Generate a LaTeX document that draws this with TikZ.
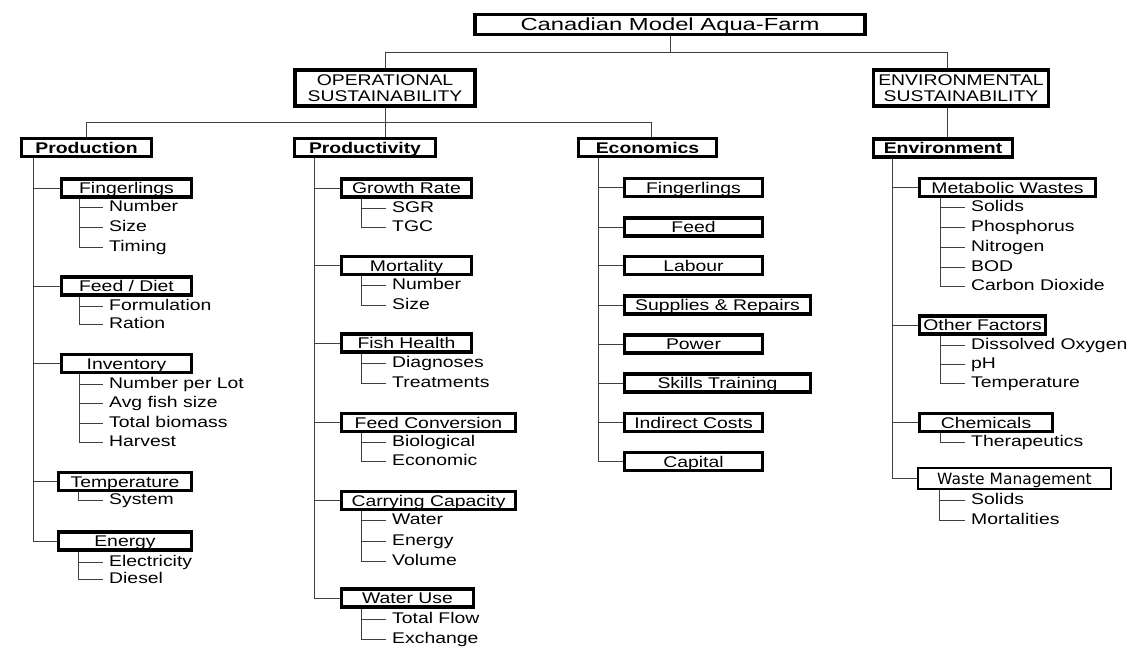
\documentclass[tikz,border=0pt]{standalone}
\usepackage{fontspec}
\setmainfont{Liberation Sans}[FakeStretch=1.25]
\newfontfamily\titlefont{Liberation Sans}[FakeStretch=1.36]
\newfontfamily\wastefont{DejaVu Sans}
\usepackage{tikz}
\tikzstyle{box} = [draw, line width=3.4pt, fill=white, inner sep=0pt, minimum height=18pt, text height=12.5pt, text depth=1.5pt, font=\fontsize{15.5}{16}\selectfont]
\tikzstyle{head} = [box, font=\fontsize{15.5}{16}\selectfont\bfseries]
\tikzstyle{pillar} = [draw, line width=3.4pt, fill=white, inner sep=0pt, minimum height=36pt, align=center, font=\fontsize{15.5}{16}\selectfont]
\tikzstyle{item} = [anchor=west, inner xsep=6pt, inner ysep=0pt, text height=11pt, text depth=2pt, font=\fontsize{15.5}{16}\selectfont]
\tikzstyle{link} = [draw, line width=1pt, black!75]

\begin{document}
\begin{tikzpicture}[x=1pt, y=-1pt]
\useasboundingbox (0, 0) rectangle (1128, 646);

\node at (670, 24.5) [box, minimum width=390pt, minimum height=19.5pt, text height=14pt, text depth=2pt, font=\titlefont\fontsize{17.5}{18}\selectfont] (farm) {Canadian Model Aqua-Farm};
\node at (385, 88) [pillar, minimum width=180pt] (ops) {OPERATIONAL\\SUSTAINABILITY};
\node at (961, 88) [pillar, minimum width=174.5pt] (envs) {ENVIRONMENTAL\\SUSTAINABILITY};
\coordinate (j0) at (670, 52);
\coordinate (j1) at (385, 122);
\path [link] (farm.south) -- (j0);
\path [link] (j0) -| (ops.north);
\path [link] (j0) -| ([xshift=-14]envs.north);
\path [link] (ops.south) -- (j1);

\node at (86.5, 147.5) [head, minimum width=129.5pt] (prod) {Production};
\node at (365, 147.5) [head, minimum width=140.5pt] (prdv) {Productivity};
\node at (647.5, 147.5) [head, minimum width=137.5pt] (econ) {Economics};
\node at (943, 148) [head, minimum width=138.5pt] (env) {Environment};
\path [link] (j1) -| (prod.north);
\path [link] (j1) -- ([xshift=20]prdv.north);
\path [link] (j1) -| ([xshift=4]econ.north);
\path [link] ([xshift=-14]envs.south) -- ([xshift=4]env.north);

% production
\node at (126.5, 188) [box, minimum width=129.5pt] (p1) {Fingerlings};
\node at (103, 207) [item] (p11) {Number};
\node at (103, 227) [item] (p12) {Size};
\node at (103, 247) [item] (p13) {Timing};
\node at (126.5, 286) [box, minimum width=129.5pt] (p2) {Feed / Diet};
\node at (103, 306) [item] (p21) {Formulation};
\node at (103, 324) [item] (p22) {Ration};
\node at (126.5, 363.5) [box, minimum width=129.5pt] (p3) {Inventory};
\node at (103, 384) [item] (p31) {Number per Lot};
\node at (103, 403) [item] (p32) {Avg fish size};
\node at (103, 423) [item] (p33) {Total biomass};
\node at (103, 442) [item] (p34) {Harvest};
\node at (125, 481.5) [box, minimum width=132.5pt] (p4) {Temperature};
\node at (103, 500) [item] (p41) {System};
\node at (125, 541) [box, minimum width=132.5pt] (p5) {Energy};
\node at (103, 562) [item] (p51) {Electricity};
\node at (103, 579) [item] (p52) {Diesel};
\path [link] ([xshift=-53]prod.south) |- (p1.west);
\path [link] ([xshift=-53]prod.south) |- (p2.west);
\path [link] ([xshift=-53]prod.south) |- (p3.west);
\path [link] ([xshift=-53]prod.south) |- (p4.west);
\path [link] ([xshift=-53]prod.south) |- (p5.west);
\path [link] ([xshift=19]p1.south west) |- (p11.west);
\path [link] ([xshift=19]p1.south west) |- (p12.west);
\path [link] ([xshift=19]p1.south west) |- (p13.west);
\path [link] ([xshift=19]p2.south west) |- (p21.west);
\path [link] ([xshift=19]p2.south west) |- (p22.west);
\path [link] ([xshift=19]p3.south west) |- (p31.west);
\path [link] ([xshift=19]p3.south west) |- (p32.west);
\path [link] ([xshift=19]p3.south west) |- (p33.west);
\path [link] ([xshift=19]p3.south west) |- (p34.west);
\path [link] ([xshift=21]p4.south west) |- (p41.west);
\path [link] ([xshift=21]p5.south west) |- (p51.west);
\path [link] ([xshift=21]p5.south west) |- (p52.west);

% productivity
\node at (406.5, 188) [box, minimum width=129.5pt] (q1) {Growth Rate};
\node at (386, 208) [item] (q11) {SGR};
\node at (386, 227) [item] (q12) {TGC};
\node at (406.5, 265.5) [box, minimum width=129.5pt] (q2) {Mortality};
\node at (386, 285) [item] (q21) {Number};
\node at (386, 305) [item] (q22) {Size};
\node at (406.5, 343) [box, minimum width=129.5pt] (q3) {Fish Health};
\node at (386, 363) [item] (q31) {Diagnoses};
\node at (386, 383) [item] (q32) {Treatments};
\node at (428.5, 422.5) [box, minimum width=173.5pt] (q4) {Feed Conversion};
\node at (386, 442) [item] (q41) {Biological};
\node at (386, 461) [item] (q42) {Economic};
\node at (428.5, 500.5) [box, minimum width=173.5pt] (q5) {Carrying Capacity};
\node at (386, 520) [item] (q51) {Water};
\node at (386, 541) [item] (q52) {Energy};
\node at (386, 561) [item] (q53) {Volume};
\node at (407.5, 598) [box, minimum width=131.5pt] (q6) {Water Use};
\node at (386, 619) [item] (q61) {Total Flow};
\node at (386, 639) [item] (q62) {Exchange};
\path [link] ([xshift=-51]prdv.south) |- (q1.west);
\path [link] ([xshift=-51]prdv.south) |- (q2.west);
\path [link] ([xshift=-51]prdv.south) |- (q3.west);
\path [link] ([xshift=-51]prdv.south) |- (q4.west);
\path [link] ([xshift=-51]prdv.south) |- (q5.west);
\path [link] ([xshift=-51]prdv.south) |- (q6.west);
\path [link] ([xshift=21]q1.south west) |- (q11.west);
\path [link] ([xshift=21]q1.south west) |- (q12.west);
\path [link] ([xshift=21]q2.south west) |- (q21.west);
\path [link] ([xshift=21]q2.south west) |- (q22.west);
\path [link] ([xshift=21]q3.south west) |- (q31.west);
\path [link] ([xshift=21]q3.south west) |- (q32.west);
\path [link] ([xshift=21]q4.south west) |- (q41.west);
\path [link] ([xshift=21]q4.south west) |- (q42.west);
\path [link] ([xshift=21]q5.south west) |- (q51.west);
\path [link] ([xshift=21]q5.south west) |- (q52.west);
\path [link] ([xshift=21]q5.south west) |- (q53.west);
\path [link] ([xshift=21]q6.south west) |- (q61.west);
\path [link] ([xshift=21]q6.south west) |- (q62.west);

% economics
\node at (693.5, 187.5) [box, minimum width=137.5pt] (e1) {Fingerlings};
\node at (693.5, 227) [box, minimum width=137.5pt] (e2) {Feed};
\node at (693.5, 265.5) [box, minimum width=137.5pt] (e3) {Labour};
\node at (717.5, 305) [box, minimum width=185.5pt] (e4) {Supplies \& Repairs};
\node at (693.5, 344) [box, minimum width=137.5pt] (e5) {Power};
\node at (717.5, 383) [box, minimum width=185.5pt] (e6) {Skills Training};
\node at (693.5, 422.5) [box, minimum width=137.5pt] (e7) {Indirect Costs};
\node at (693.5, 461.5) [box, minimum width=137.5pt] (e8) {Capital};
\path [link] ([xshift=-49.5]econ.south) |- (e1.west);
\path [link] ([xshift=-49.5]econ.south) |- (e2.west);
\path [link] ([xshift=-49.5]econ.south) |- (e3.west);
\path [link] ([xshift=-49.5]econ.south) |- (e4.west);
\path [link] ([xshift=-49.5]econ.south) |- (e5.west);
\path [link] ([xshift=-49.5]econ.south) |- (e6.west);
\path [link] ([xshift=-49.5]econ.south) |- (e7.west);
\path [link] ([xshift=-49.5]econ.south) |- (e8.west);

% environment
\node at (1007.5, 187.5) [box, minimum width=175.5pt] (v1) {Metabolic Wastes};
\node at (965, 207) [item] (v11) {Solids};
\node at (965, 227) [item] (v12) {Phosphorus};
\node at (965, 247) [item] (v13) {Nitrogen};
\node at (965, 267) [item] (v14) {BOD};
\node at (965, 286) [item] (v15) {Carbon Dioxide};
\node at (982.5, 325) [box, minimum width=125.5pt] (v2) {Other Factors};
\node at (965, 345) [item] (v21) {Dissolved Oxygen};
\node at (965, 364) [item] (v22) {pH};
\node at (965, 383) [item] (v23) {Temperature};
\node at (986, 422.5) [box, minimum width=132.5pt] (v3) {Chemicals};
\node at (965, 442) [item] (v31) {Therapeutics};
\node at (1014.5, 478.5) [box, line width=2.4pt, minimum width=193pt, minimum height=21pt, font=\wastefont\fontsize{15.5}{17}\selectfont] (v4) {Waste Management};
\node at (965, 500) [item] (v41) {Solids};
\node at (965, 520) [item] (v42) {Mortalities};
\path [link] ([xshift=-51]env.south) |- (v1.west);
\path [link] ([xshift=-51]env.south) |- (v2.west);
\path [link] ([xshift=-51]env.south) |- (v3.west);
\path [link] ([xshift=-51]env.south) |- (v4.west);
\path [link] ([xshift=22]v1.south west) |- (v11.west);
\path [link] ([xshift=22]v1.south west) |- (v12.west);
\path [link] ([xshift=22]v1.south west) |- (v13.west);
\path [link] ([xshift=22]v1.south west) |- (v14.west);
\path [link] ([xshift=22]v1.south west) |- (v15.west);
\path [link] ([xshift=22]v2.south west) |- (v21.west);
\path [link] ([xshift=22]v2.south west) |- (v22.west);
\path [link] ([xshift=22]v2.south west) |- (v23.west);
\path [link] ([xshift=22]v3.south west) |- (v31.west);
\path [link] ([xshift=23]v4.south west) |- (v41.west);
\path [link] ([xshift=23]v4.south west) |- (v42.west);
\end{tikzpicture}
\end{document}
